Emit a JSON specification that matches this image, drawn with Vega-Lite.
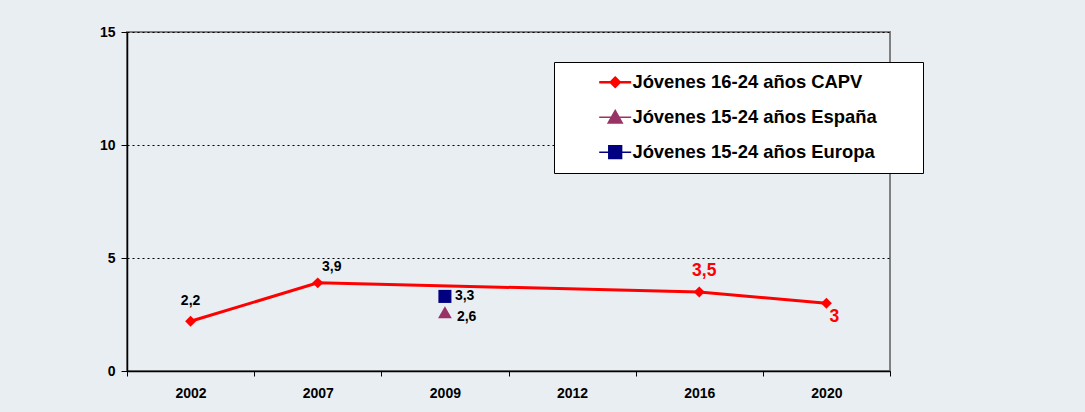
{
  "$schema": "https://vega.github.io/schema/vega-lite/v6.json",
  "autosize": "none",
  "width": 763,
  "height": 339,
  "padding": {"left": 127, "top": 32, "right": 195, "bottom": 41},
  "background": "#E9EEF3",
  "config": {
    "font": "Liberation Sans",
    "view": {"stroke": "#808080", "strokeWidth": 2, "fill": "#E9EEF3"}
  },
  "data": {
    "values": [
      {"series": "Jóvenes 16-24 años CAPV", "year": "2002", "value": 2.2, "label": "2,2"},
      {"series": "Jóvenes 16-24 años CAPV", "year": "2007", "value": 3.9, "label": "3,9"},
      {"series": "Jóvenes 16-24 años CAPV", "year": "2016", "value": 3.5, "label": "3,5"},
      {"series": "Jóvenes 16-24 años CAPV", "year": "2020", "value": 3.0, "label": "3"},
      {"series": "Jóvenes 15-24 años España", "year": "2009", "value": 2.6, "label": "2,6"},
      {"series": "Jóvenes 15-24 años Europa", "year": "2009", "value": 3.3, "label": "3,3"}
    ]
  },
  "encoding": {
    "x": {
      "field": "year",
      "type": "ordinal",
      "scale": {"type": "band", "domain": ["2002", "2007", "2009", "2012", "2016", "2020"], "paddingInner": 0, "paddingOuter": 0},
      "axis": {
        "title": null,
        "labelAngle": 0,
        "tickBand": "extent",
        "domainColor": "#000000",
        "domainWidth": 1.5,
        "tickColor": "#000000",
        "tickSize": 5,
        "labelPadding": 10,
        "labelFont": "Liberation Sans",
        "labelFontSize": 14,
        "labelFontWeight": "bold",
        "labelColor": "#000000",
        "grid": false
      }
    },
    "y": {
      "field": "value",
      "type": "quantitative",
      "scale": {"domain": [0, 15], "nice": false, "zero": true},
      "axis": {
        "title": null,
        "values": [0, 5, 10, 15],
        "domainColor": "#000000",
        "domainWidth": 1.5,
        "tickColor": "#000000",
        "tickSize": 6,
        "labelPadding": 6,
        "labelFont": "Liberation Sans",
        "labelFontSize": 14,
        "labelFontWeight": "bold",
        "labelColor": "#000000",
        "grid": true,
        "gridColor": "#000000",
        "gridDash": [2, 3],
        "gridWidth": 1
      }
    },
    "color": {
      "field": "series",
      "type": "nominal",
      "scale": {
        "domain": ["Jóvenes 16-24 años CAPV", "Jóvenes 15-24 años España", "Jóvenes 15-24 años Europa"],
        "range": ["#FF0000", "#993366", "#000080"]
      },
      "legend": {
        "title": null,
        "orient": "none",
        "legendX": 427,
        "legendY": 30,
        "direction": "vertical",
        "fillColor": "#FFFFFF",
        "strokeColor": "#000000",
        "padding": 11,
        "symbolOffset": 41,
        "symbolSize": 1024,
        "symbolStrokeWidth": 2,
        "labelFont": "Liberation Sans",
        "labelFontSize": 18.4,
        "labelFontWeight": "bold",
        "labelColor": "#000000",
        "labelOffset": 8,
        "labelLimit": 450,
        "rowPadding": 15,
        "encode": {
          "symbols": {
            "update": {
              "shape": {"signal": "datum.value === 'Jóvenes 16-24 años CAPV' ? 'M-1,0L1,0M0,-0.28L0.28,0L0,0.28L-0.28,0ZM18.2,0' : datum.value === 'Jóvenes 15-24 años España' ? 'M-1,0L1,0M0,-0.42L0.44,0.36L-0.44,0.36ZM18.2,0' : 'M-1,0L1,0M-0.4,-0.4L0.4,-0.4L0.4,0.4L-0.4,0.4ZM18.2,0'"},
              "stroke": {"signal": "datum.value === 'Jóvenes 16-24 años CAPV' ? '#FF0000' : datum.value === 'Jóvenes 15-24 años España' ? '#993366' : '#5555BB'"},
              "fill": {"signal": "datum.value === 'Jóvenes 16-24 años CAPV' ? '#FF0000' : datum.value === 'Jóvenes 15-24 años España' ? '#993366' : '#000080'"},
              "strokeWidth": {"signal": "datum.value === 'Jóvenes 16-24 años CAPV' ? 2.5 : 1.5"},
              "opacity": {"value": 1}
            }
          }
        }
      }
    }
  },
  "layer": [
    {
      "transform": [{"filter": "datum.series === 'Jóvenes 16-24 años CAPV'"}],
      "mark": {"type": "line", "strokeWidth": 3},
      "encoding": {}
    },
    {
      "transform": [{"filter": "datum.series === 'Jóvenes 16-24 años CAPV'"}],
      "mark": {"type": "point", "filled": true, "opacity": 1, "shape": "diamond", "size": 120},
      "encoding": {}
    },
    {
      "transform": [{"filter": "datum.series === 'Jóvenes 15-24 años España'"}],
      "mark": {"type": "point", "filled": true, "opacity": 1, "shape": "triangle-up", "size": 190},
      "encoding": {}
    },
    {
      "transform": [{"filter": "datum.series === 'Jóvenes 15-24 años Europa'"}],
      "mark": {"type": "point", "filled": true, "opacity": 1, "shape": "square", "size": 170},
      "encoding": {}
    },
    {
      "transform": [{"filter": "datum.series === 'Jóvenes 16-24 años CAPV' && datum.year === '2002'"}],
      "mark": {"type": "text", "font": "Liberation Sans", "fontSize": 14, "fontWeight": "bold", "dy": -20, "baseline": "middle"},
      "encoding": {"text": {"field": "label"}, "color": {"value": "#000000"}}
    },
    {
      "transform": [{"filter": "datum.series === 'Jóvenes 16-24 años CAPV' && datum.year === '2007'"}],
      "mark": {"type": "text", "font": "Liberation Sans", "fontSize": 14, "fontWeight": "bold", "dx": 14, "dy": -16, "baseline": "middle"},
      "encoding": {"text": {"field": "label"}, "color": {"value": "#000000"}}
    },
    {
      "transform": [{"filter": "datum.series === 'Jóvenes 16-24 años CAPV' && datum.year === '2016'"}],
      "mark": {"type": "text", "font": "Liberation Sans", "fontSize": 17.5, "fontWeight": "bold", "dx": 5, "dy": -21, "baseline": "middle"},
      "encoding": {"text": {"field": "label"}, "color": {"value": "#FF0000"}}
    },
    {
      "transform": [{"filter": "datum.series === 'Jóvenes 16-24 años CAPV' && datum.year === '2020'"}],
      "mark": {"type": "text", "font": "Liberation Sans", "fontSize": 17.5, "fontWeight": "bold", "dx": 8, "dy": 14, "baseline": "middle"},
      "encoding": {"text": {"field": "label"}, "color": {"value": "#FF0000"}}
    },
    {
      "transform": [{"filter": "datum.series === 'Jóvenes 15-24 años Europa'"}],
      "mark": {"type": "text", "font": "Liberation Sans", "fontSize": 14, "fontWeight": "bold", "dx": 10, "dy": 0, "align": "left", "baseline": "middle"},
      "encoding": {"text": {"field": "label"}, "color": {"value": "#000000"}}
    },
    {
      "transform": [{"filter": "datum.series === 'Jóvenes 15-24 años España'"}],
      "mark": {"type": "text", "font": "Liberation Sans", "fontSize": 14, "fontWeight": "bold", "dx": 12, "dy": 5, "align": "left", "baseline": "middle"},
      "encoding": {"text": {"field": "label"}, "color": {"value": "#000000"}}
    }
  ]
}
